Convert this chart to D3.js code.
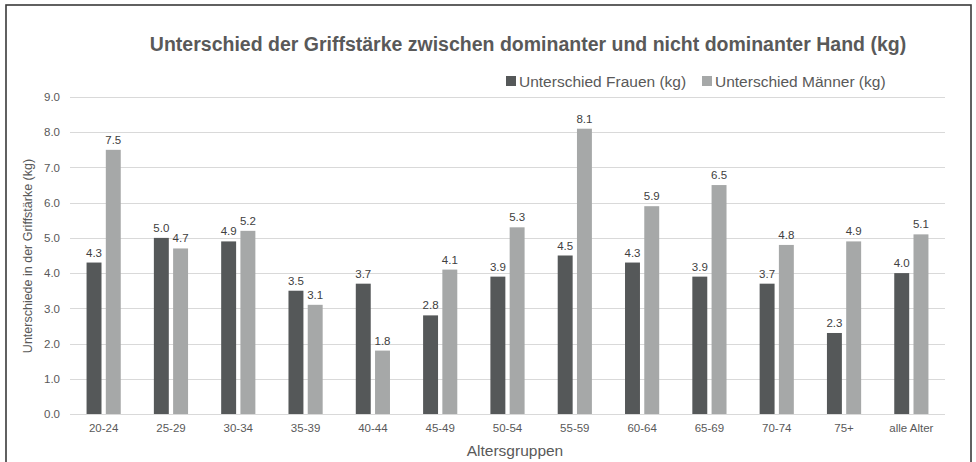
<!DOCTYPE html>
<html>
<head>
<meta charset="utf-8">
<script src="https://cdn.jsdelivr.net/npm/d3@7"></script>
<style>
  html, body { margin: 0; padding: 0; background: #fff; }
  svg { display: block; font-family: "Liberation Sans", Arial, sans-serif; }
</style>
</head>
<body>
<svg id="chart" width="976" height="462"></svg>
<script>
// Altersgruppen and the grip-strength differences per group (kg)
const categories = ["20-24", "25-29", "30-34", "35-39", "40-44", "45-49", "50-54",
                    "55-59", "60-64", "65-69", "70-74", "75+", "alle Alter"];
const frauen = [4.3, 5.0, 4.9, 3.5, 3.7, 2.8, 3.9, 4.5, 4.3, 3.9, 3.7, 2.3, 4.0];
const maenner = [7.5, 4.7, 5.2, 3.1, 1.8, 4.1, 5.3, 8.1, 5.9, 6.5, 4.8, 4.9, 5.1];
const yTicks = [0, 1, 2, 3, 4, 5, 6, 7, 8, 9];
const seriesNames = ["Unterschied Frauen (kg)", "Unterschied Männer (kg)"];

const colors = ["#555859", "#a6a8a8"];
const textColor = "#595959";
const fontFamily = "'Liberation Sans', Arial, sans-serif";

const svg = d3.select("#chart");
const margin = { left: 70, right: 31, top: 97, bottom: 48 };
const W = 976, H = 462;

const x = d3.scaleBand().domain(categories).range([margin.left, W - margin.right]);
const y = d3.scaleLinear().domain([0, 9]).range([H - margin.bottom, margin.top]);

// outer frame
svg.append("rect")
  .attr("x", 6).attr("y", 5).attr("width", 965).attr("height", 470)
  .attr("fill", "none").attr("stroke", "#3a3a3a").attr("stroke-width", 1.6);

// gridlines
svg.append("g").selectAll("line").data(yTicks).join("line")
  .attr("x1", margin.left).attr("x2", W - margin.right)
  .attr("y1", d => Math.round(y(d)) + 0.5).attr("y2", d => Math.round(y(d)) + 0.5)
  .attr("stroke", "#d9d9d9").attr("stroke-width", 1);

// y axis labels
const yAxis = d3.axisLeft(y).tickValues(yTicks).tickFormat(d3.format(".1f")).tickSize(0).tickPadding(10);
const gy = svg.append("g").attr("transform", `translate(${margin.left},0)`).call(yAxis);
gy.select(".domain").remove();
gy.selectAll("text").attr("fill", textColor).style("font-size", "11.5px")
  .style("font-family", fontFamily);

// x axis labels
const xAxis = d3.axisBottom(x).tickSize(0).tickPadding(10);
const gx = svg.append("g").attr("transform", `translate(0,${H - margin.bottom})`).call(xAxis);
gx.select(".domain").remove();
gx.selectAll("text").attr("fill", textColor).style("font-size", "11.5px")
  .style("font-family", fontFamily);

// grouped bars
const bw = x.bandwidth();
const barW = bw * 0.222;
const gap = bw * 0.064;
const offsets = [bw / 2 - gap / 2 - barW, bw / 2 + gap / 2];
const series = [frauen, maenner];

series.forEach((vals, si) => {
  const g = svg.append("g");
  g.selectAll("rect").data(vals).join("rect")
    .attr("x", (d, i) => x(categories[i]) + offsets[si])
    .attr("y", d => y(d))
    .attr("width", barW)
    .attr("height", d => y(0) - y(d))
    .attr("fill", colors[si]);
  g.selectAll("text").data(vals).join("text")
    .attr("x", (d, i) => x(categories[i]) + offsets[si] + barW / 2)
    .attr("y", d => y(d) - 6)
    .attr("text-anchor", "middle")
    .attr("fill", "#404040")
    .style("font-size", "11.5px")
    .text(d => d3.format(".1f")(d));
});

// baseline
svg.append("line")
  .attr("x1", margin.left).attr("x2", W - margin.right)
  .attr("y1", Math.round(y(0)) + 0.5).attr("y2", Math.round(y(0)) + 0.5)
  .attr("stroke", "#d9d9d9");

// title
svg.append("text")
  .attr("x", 528).attr("y", 51)
  .attr("text-anchor", "middle")
  .attr("fill", textColor)
  .style("font-size", "19.5px").style("font-weight", "bold")
  .text("Unterschied der Griffstärke zwischen dominanter und nicht dominanter Hand (kg)");

// legend
const legendItems = [{ x: 506, name: seriesNames[0], c: colors[0] },
                     { x: 702, name: seriesNames[1], c: colors[1] }];
const lg = svg.append("g");
legendItems.forEach(it => {
  lg.append("rect").attr("x", it.x).attr("y", 76).attr("width", 10).attr("height", 10).attr("fill", it.c);
  lg.append("text").attr("x", it.x + 13).attr("y", 87)
    .attr("fill", textColor).style("font-size", "15.5px").text(it.name);
});

// axis titles
svg.append("text")
  .attr("x", 515).attr("y", 456)
  .attr("text-anchor", "middle").attr("fill", textColor)
  .style("font-size", "15.5px").text("Altersgruppen");

svg.append("text")
  .attr("transform", "translate(32,256) rotate(-90)")
  .attr("text-anchor", "middle").attr("fill", textColor)
  .style("font-size", "12.5px").text("Unterschiede in der Griffstärke (kg)");
</script>
</body>
</html>
